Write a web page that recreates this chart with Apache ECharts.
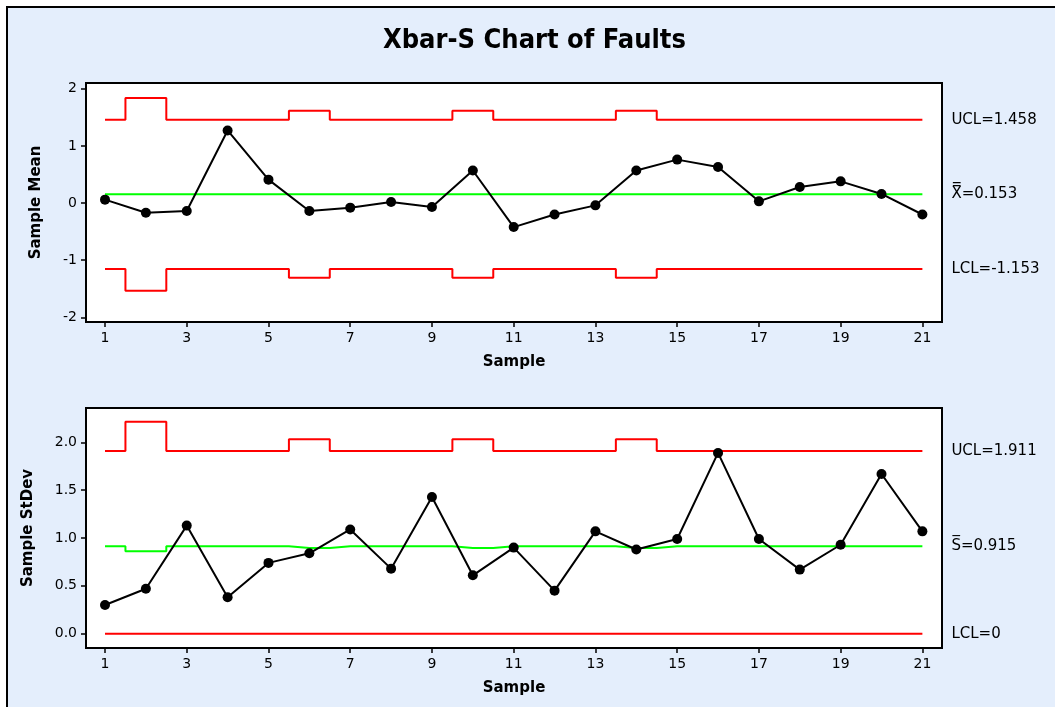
<!DOCTYPE html>
<html>
<head>
<meta charset="utf-8">
<script src="https://cdn.jsdelivr.net/npm/echarts@6/dist/echarts.min.js"></script>
<style>
  html, body { margin: 0; padding: 0; background: #ffffff; }
  #frame { position: absolute; left: 6px; top: 6px; width: 1049px; height: 701px;
           border-left: 2px solid #000; border-top: 2px solid #000; background: #E4EEFC; box-sizing: border-box; }
  #chart { position: absolute; left: 0; top: 0; width: 1055px; height: 707px; }
</style>
</head>
<body>
<div id="frame"></div>
<div id="chart"></div>
<script>
// ---- data ----
const samples = [1,2,3,4,5,6,7,8,9,10,11,12,13,14,15,16,17,18,19,20,21];
const sampleMeans = [0.06,-0.17,-0.14,1.27,0.41,-0.14,-0.08,0.02,-0.07,0.57,-0.42,-0.20,-0.04,0.57,0.76,0.63,0.03,0.28,0.38,0.16,-0.20];
const sampleStDevs = [0.30,0.47,1.13,0.38,0.74,0.84,1.09,0.68,1.43,0.61,0.90,0.45,1.07,0.88,0.99,1.89,0.99,0.67,0.93,1.67,1.07];
// control limits per sample (vary with subgroup size)
const meanUCL = [1.458,1.839,1.458,1.458,1.458,1.613,1.458,1.458,1.458,1.613,1.458,1.458,1.458,1.613,1.458,1.458,1.458,1.458,1.458,1.458,1.458];
const meanCL  = [0.153,0.153,0.153,0.153,0.153,0.153,0.153,0.153,0.153,0.153,0.153,0.153,0.153,0.153,0.153,0.153,0.153,0.153,0.153,0.153,0.153];
const meanLCL = [-1.153,-1.533,-1.153,-1.153,-1.153,-1.307,-1.153,-1.153,-1.153,-1.307,-1.153,-1.153,-1.153,-1.307,-1.153,-1.153,-1.153,-1.153,-1.153,-1.153,-1.153];
const sdUCL = [1.911,2.215,1.911,1.911,1.911,2.032,1.911,1.911,1.911,2.032,1.911,1.911,1.911,2.032,1.911,1.911,1.911,1.911,1.911,1.911,1.911];
const sdCL  = [0.915,0.863,0.915,0.915,0.915,0.897,0.915,0.915,0.915,0.897,0.915,0.915,0.915,0.897,0.915,0.915,0.915,0.915,0.915,0.915,0.915];
const sdLCL = [0,0,0,0,0,0,0,0,0,0,0,0,0,0,0,0,0,0,0,0,0];
const xTicks = [1,3,5,7,9,11,13,15,17,19,21];
const meanTicks = [-2,-1,0,1,2];
const sdTicks = [0,0.5,1,1.5,2];
const meanLabels = { ucl: 'UCL=1.458', cl: 'X\u033F=0.153', lcl: 'LCL=-1.153' };
const sdLabels = { ucl: 'UCL=1.911', cl: 'S\u0305=0.915', lcl: 'LCL=0' };

const FONT = 'DejaVu Sans';
const pairs = arr => samples.map((s, i) => [s, arr[i]]);

function xAxisCfg(gridIndex) {
  return {
    type: 'value', gridIndex, min: 0.535, max: 21.48,
    name: 'Sample', nameLocation: 'middle', nameGap: 33,
    nameTextStyle: { fontFamily: FONT, fontWeight: 'bold', fontSize: 15, color: '#000' },
    axisLine: { show: true, onZero: false, lineStyle: { color: '#000', width: 2 } },
    axisTick: { show: true, length: 5, customValues: xTicks, lineStyle: { color: '#000', width: 1.5 } },
    axisLabel: { customValues: xTicks, margin: 9, fontFamily: FONT, fontSize: 14, color: '#000' },
    splitLine: { show: false }
  };
}
function yAxisCfg(gridIndex, min, max, ticks, name, gap, fmt) {
  return {
    type: 'value', gridIndex, min, max,
    name, nameLocation: 'middle', nameGap: gap,
    nameTextStyle: { fontFamily: FONT, fontWeight: 'bold', fontSize: 15, color: '#000' },
    axisLine: { show: true, onZero: false, lineStyle: { color: '#000', width: 2 } },
    axisTick: { show: true, length: 5, customValues: ticks, lineStyle: { color: '#000', width: 1.5 } },
    axisLabel: { customValues: ticks, margin: 9, fontFamily: FONT, fontSize: 14, color: '#000', formatter: fmt },
    splitLine: { show: false }
  };
}
function limitSeries(idx, arr, color, label) {
  return {
    type: 'line', xAxisIndex: idx, yAxisIndex: idx, data: pairs(arr), step: 'middle',
    showSymbol: false, symbol: 'none', silent: true, z: 2,
    lineStyle: { color, width: 2 },
    endLabel: { show: true, formatter: label, distance: 29, fontFamily: FONT, fontSize: 15, color: '#000', align: 'left' }
  };
}
function dataSeries(idx, arr) {
  return {
    type: 'line', xAxisIndex: idx, yAxisIndex: idx, data: pairs(arr),
    symbol: 'circle', symbolSize: 10, showAllSymbol: true, z: 5,
    itemStyle: { color: '#000' }, lineStyle: { color: '#000', width: 2 }
  };
}

const chart = echarts.init(document.getElementById('chart'), null, { renderer: 'canvas' });
chart.setOption({
  backgroundColor: 'transparent',
  animation: false,
  title: {
    text: 'Xbar-S Chart of Faults', left: 378, top: 22,
    textStyle: { fontFamily: 'DejaVu Sans Condensed', fontWeight: 'bold', fontSize: 27, color: '#000' }
  },
  grid: [
    { left: 86, top: 83, width: 856, height: 239, show: true, backgroundColor: '#fff', borderColor: '#000', borderWidth: 2 },
    { left: 86, top: 408, width: 856, height: 240, show: true, backgroundColor: '#fff', borderColor: '#000', borderWidth: 2 }
  ],
  xAxis: [xAxisCfg(0), xAxisCfg(1)],
  yAxis: [
    yAxisCfg(0, -2.08, 2.10, meanTicks, 'Sample Mean', 42, v => String(v)),
    yAxisCfg(1, -0.15, 2.36, sdTicks, 'Sample StDev', 50, v => v.toFixed(1))
  ],
  series: [
    limitSeries(0, meanUCL, '#FF0000', meanLabels.ucl),
    limitSeries(0, meanCL, '#00FF00', meanLabels.cl),
    limitSeries(0, meanLCL, '#FF0000', meanLabels.lcl),
    dataSeries(0, sampleMeans),
    limitSeries(1, sdUCL, '#FF0000', sdLabels.ucl),
    limitSeries(1, sdCL, '#00FF00', sdLabels.cl),
    limitSeries(1, sdLCL, '#FF0000', sdLabels.lcl),
    dataSeries(1, sampleStDevs)
  ]
});
</script>
</body>
</html>
